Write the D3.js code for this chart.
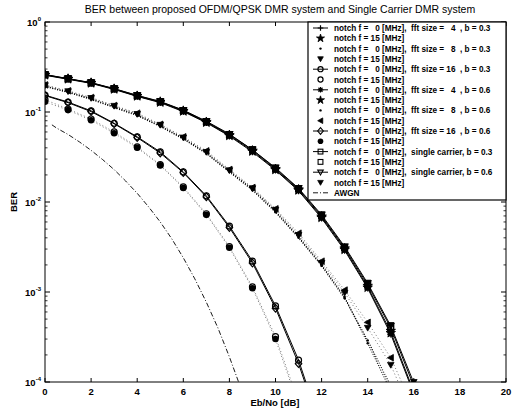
<!DOCTYPE html>
<html><head><meta charset="utf-8">
<script src="https://cdn.jsdelivr.net/npm/d3@7"></script>
<style>body{margin:0;background:#fff}text{font-family:"Liberation Sans",Arial,sans-serif;white-space:pre}</style>
</head><body><svg id="c" width="512" height="409"></svg>
<script>
const ebno = [0,1,2,3,4,5,6,7,8,9,10,11,12,13,14,15,16];
// top group: fft size 4 and single carrier
const f0_fft4_b03 = [0.258,0.233,0.21,0.18,0.15,0.129,0.1026,0.077,0.055,0.037,0.023,0.0136,0.0068,0.003,0.00114,0.00036,0.000078];
const f15_fft4_b03 = [0.259,0.234,0.211,0.181,0.151,0.13,0.103,0.0775,0.0555,0.0373,0.0232,0.0138,0.0069,0.00305,0.00117,0.00037,0.00008];
const f0_fft4_b06 = [0.256,0.231,0.208,0.178,0.149,0.127,0.101,0.076,0.054,0.036,0.0226,0.0133,0.0066,0.0029,0.0011,0.00034,0.000074];
const f15_fft4_b06 = [0.257,0.232,0.209,0.179,0.15,0.128,0.102,0.0765,0.0545,0.0365,0.0228,0.0135,0.0067,0.00295,0.00112,0.00035,0.000076];
const f0_sc_b03 = [0.26,0.234,0.211,0.181,0.152,0.13,0.104,0.078,0.056,0.038,0.0235,0.014,0.007,0.0031,0.0012,0.0004,0.00009];
const f15_sc_b03 = [0.261,0.235,0.212,0.182,0.152,0.131,0.104,0.078,0.056,0.038,0.0237,0.0141,0.0071,0.0031,0.00122,0.00041,0.000092];
const f0_sc_b06 = [0.261,0.235,0.212,0.182,0.153,0.131,0.105,0.079,0.057,0.038,0.024,0.0142,0.0072,0.0032,0.00125,0.00042,0.000098];
const f15_sc_b06 = [0.262,0.236,0.213,0.183,0.153,0.132,0.105,0.079,0.057,0.0385,0.0242,0.0143,0.0073,0.0032,0.00127,0.00043,0.0001];
// middle group: fft size 8
const f0_fft8_b03 = [0.194,0.167,0.14,0.114,0.093,0.07,0.051,0.035,0.022,0.0139,0.0079,0.0041,0.002,0.00088,0.00027,0.00008];
const f15_fft8_b03 = [0.198,0.17,0.143,0.117,0.095,0.072,0.052,0.036,0.0225,0.0142,0.0082,0.0043,0.0021,0.00098,0.0004,0.000155,0.00004];
const f0_fft8_b06 = [0.192,0.165,0.138,0.112,0.091,0.069,0.05,0.0345,0.0215,0.0135,0.0077,0.004,0.00195,0.00085,0.00029,0.00009];
const f15_fft8_b06 = [0.2,0.172,0.145,0.118,0.097,0.073,0.053,0.037,0.023,0.0145,0.0084,0.0045,0.0022,0.00105,0.00046,0.000186,0.00005];
// bottom group: fft size 16
const f0_fft16_b03 = [0.154,0.129,0.103,0.075,0.053,0.036,0.0216,0.0117,0.0054,0.0022,0.0007,0.000175,0.00003];
const f15_fft16_b03 = [0.137,0.108,0.0836,0.06,0.041,0.026,0.0147,0.0074,0.0032,0.00114,0.00032,0.00006];
const f0_fft16_b06 = [0.152,0.127,0.101,0.074,0.052,0.035,0.0212,0.0114,0.0052,0.0021,0.00066,0.00016,0.000028];
const f15_fft16_b06 = [0.13,0.105,0.081,0.058,0.04,0.0255,0.0143,0.0072,0.0031,0.0011,0.0003,0.000055];
// AWGN reference
const awgnX = [0.3,0.5,1,1.5,2,2.5,3,3.5,4,4.5,5,5.5,6,6.5,7,7.5,8,8.5];
const awgnY = [0.072,0.0664,0.0563,0.0464,0.0375,0.0296,0.0229,0.0171,0.0125,0.0088,0.006,0.0039,0.0024,0.0014,0.00077,0.0004,0.00019,0.000085];
const xTicks = [0,2,4,6,8,10,12,14,16,18,20];
const yTicks = [1e-4,1e-3,1e-2,1e-1,1];
const yExps = ["-4","-3","-2","-1","0"];
const title = "BER between proposed OFDM/QPSK DMR system and Single Carrier DMR system";

const series = [
 {label:"notch f =   0 [MHz],  fft size =   4  , b = 0.3", y:f0_fft4_b03, m:"plus", line:"solid"},
 {label:"notch f = 15 [MHz]", y:f15_fft4_b03, m:"fstar", line:"none"},
 {label:"notch f =   0 [MHz],  fft size =   8  , b = 0.3", y:f0_fft8_b03, m:"point", line:"dot"},
 {label:"notch f = 15 [MHz]", y:f15_fft8_b03, m:"ftridown", line:"faint"},
 {label:"notch f =   0 [MHz],  fft size = 16  , b = 0.3", y:f0_fft16_b03, m:"circle", line:"solid"},
 {label:"notch f = 15 [MHz]", y:f15_fft16_b03, m:"circle", line:"faint"},
 {label:"notch f =   0 [MHz],  fft size =   4  , b = 0.6", y:f0_fft4_b06, m:"star", line:"solid"},
 {label:"notch f = 15 [MHz]", y:f15_fft4_b06, m:"fstar", line:"none"},
 {label:"notch f =   0 [MHz],  fft size =   8  , b = 0.6", y:f0_fft8_b06, m:"point", line:"dot"},
 {label:"notch f = 15 [MHz]", y:f15_fft8_b06, m:"ftrileft", line:"faint"},
 {label:"notch f =   0 [MHz],  fft size = 16  , b = 0.6", y:f0_fft16_b06, m:"diamond", line:"solid"},
 {label:"notch f = 15 [MHz]", y:f15_fft16_b06, m:"fcircle", line:"faint"},
 {label:"notch f =   0 [MHz],  single carrier, b = 0.3", y:f0_sc_b03, m:"square", line:"solid"},
 {label:"notch f = 15 [MHz]", y:f15_sc_b03, m:"square", line:"none"},
 {label:"notch f =   0 [MHz],  single carrier, b = 0.6", y:f0_sc_b06, m:"tridown", line:"solid"},
 {label:"notch f = 15 [MHz]", y:f15_sc_b06, m:"ftridown", line:"none"}
];

const svg = d3.select("#c");
const L=45,R=506,T=22,B=382;
const x = d3.scaleLinear().domain([0,20]).range([L,R]);
const y = d3.scaleLog().domain([1e-4,1]).range([B,T]);

svg.append("defs").append("clipPath").attr("id","clip").append("rect")
  .attr("x",L).attr("y",T).attr("width",R-L).attr("height",B-T);

function marker(g, type, cx, cy, s){
  s = s||1;
  const k="#000";
  const a=3.3*s;
  if(type==="plus"){g.append("path").attr("d",`M${cx-a},${cy}H${cx+a}M${cx},${cy-a}V${cy+a}`).attr("stroke",k).attr("stroke-width",1.2);}
  else if(type==="star"){const b=a*0.72;g.append("path").attr("d",`M${cx-a},${cy}H${cx+a}M${cx},${cy-a}V${cy+a}M${cx-b},${cy-b}L${cx+b},${cy+b}M${cx-b},${cy+b}L${cx+b},${cy-b}`).attr("stroke",k).attr("stroke-width",1.2);}
  else if(type==="fstar"){g.append("path").attr("d",d3.symbol(d3.symbolStar,28*s*s)()).attr("transform",`translate(${cx},${cy})`).attr("fill",k).attr("stroke",k).attr("stroke-width",0.8);}
  else if(type==="point"){g.append("circle").attr("cx",cx).attr("cy",cy).attr("r",1.2).attr("fill",k);}
  else if(type==="circle"){g.append("circle").attr("cx",cx).attr("cy",cy).attr("r",3*s).attr("fill","none").attr("stroke",k).attr("stroke-width",1.2);}
  else if(type==="fcircle"){g.append("circle").attr("cx",cx).attr("cy",cy).attr("r",3.3*s).attr("fill",k);}
  else if(type==="diamond"){g.append("path").attr("d",`M${cx},${cy-a-0.5}L${cx+a},${cy}L${cx},${cy+a+0.5}L${cx-a},${cy}Z`).attr("fill","none").attr("stroke",k).attr("stroke-width",1.1);}
  else if(type==="square"){g.append("rect").attr("x",cx-a+0.4).attr("y",cy-a+0.4).attr("width",2*a-0.8).attr("height",2*a-0.8).attr("fill","none").attr("stroke",k).attr("stroke-width",1.1);}
  else if(type==="tridown"){g.append("path").attr("d",`M${cx-a},${cy-a*0.75}L${cx+a},${cy-a*0.75}L${cx},${cy+a}Z`).attr("fill","none").attr("stroke",k).attr("stroke-width",1.1);}
  else if(type==="ftridown"){g.append("path").attr("d",`M${cx-a},${cy-a*0.75}L${cx+a},${cy-a*0.75}L${cx},${cy+a}Z`).attr("fill",k).attr("stroke",k).attr("stroke-width",0.8);}
  else if(type==="ftrileft"){g.append("path").attr("d",`M${cx+a*0.8},${cy-a}L${cx+a*0.8},${cy+a}L${cx-a},${cy}Z`).attr("fill",k).attr("stroke",k).attr("stroke-width",0.8);}
}
function lineStyle(sel, st){
  sel.attr("fill","none").attr("stroke","#000");
  if(st==="solid") sel.attr("stroke-width",1);
  else if(st==="dot") sel.attr("stroke-width",1.1).attr("stroke-dasharray","1,1.5");
  else if(st==="faint") sel.attr("stroke-width",0.8).attr("stroke","#555").attr("stroke-dasharray","1,2.5");
  else if(st==="dashdot") sel.attr("stroke-width",0.9).attr("stroke-dasharray","5,2,1,2");
}

// frame and ticks
const axG = svg.append("g");
axG.append("rect").attr("x",L).attr("y",T).attr("width",R-L).attr("height",B-T).attr("fill","none").attr("stroke","#000").attr("stroke-width",1);
xTicks.forEach(t=>{
  const px=x(t);
  axG.append("line").attr("x1",px).attr("x2",px).attr("y1",B).attr("y2",B-4).attr("stroke","#000");
  axG.append("line").attr("x1",px).attr("x2",px).attr("y1",T).attr("y2",T+4).attr("stroke","#000");
  axG.append("text").attr("x",px).attr("y",B+13).attr("text-anchor","middle").attr("font-size",9.5).attr("font-weight","bold").text(t);
});
for(let e=-4;e<0;e++){
  for(let m=2;m<10;m++){
    const py=y(m*Math.pow(10,e));
    axG.append("line").attr("x1",L).attr("x2",L+2.5).attr("y1",py).attr("y2",py).attr("stroke","#000").attr("stroke-width",0.8);
    axG.append("line").attr("x1",R).attr("x2",R-2.5).attr("y1",py).attr("y2",py).attr("stroke","#000").attr("stroke-width",0.8);
  }
}
yTicks.forEach((t,i)=>{
  const py=y(t);
  axG.append("line").attr("x1",L).attr("x2",L+5).attr("y1",py).attr("y2",py).attr("stroke","#000");
  axG.append("line").attr("x1",R).attr("x2",R-5).attr("y1",py).attr("y2",py).attr("stroke","#000");
  const tx=axG.append("text").attr("x",L-4).attr("y",py+4).attr("text-anchor","end").attr("font-size",9.5).attr("font-weight","bold");
  tx.append("tspan").text("10");
  tx.append("tspan").attr("dy",-5).attr("font-size",6).text(yExps[i]);
});
svg.append("text").attr("x",280).attr("y",13).attr("text-anchor","middle").attr("font-size",10.5).text(title);
svg.append("text").attr("x",275).attr("y",406).attr("text-anchor","middle").attr("font-size",9.5).attr("font-weight","bold").text("Eb/No [dB]");
svg.append("text").attr("transform","translate(17,202) rotate(-90)").attr("text-anchor","middle").attr("font-size",9.5).attr("font-weight","bold").text("BER");

// data
const plot = svg.append("g").attr("clip-path","url(#clip)");
const lineGen = d3.line().x(d=>x(d[0])).y(d=>y(d[1]));
lineStyle(plot.append("path").attr("d",lineGen(awgnX.map((v,i)=>[v,awgnY[i]]))),"dashdot");
series.forEach(s=>{
  const pts = s.y.map((v,i)=>[ebno[i],v]);
  if(s.line!=="none") lineStyle(plot.append("path").attr("d",lineGen(pts)), s.line);
});
series.forEach(s=>{
  const g = plot.append("g");
  s.y.forEach((v,i)=>{ if(v>=1e-4) marker(g, s.m, x(ebno[i]), y(v)); });
});

// legend
const lg = svg.append("g");
const LX=308, LY=22, rowH=10.3;
lg.append("rect").attr("x",LX).attr("y",LY).attr("width",R-LX).attr("height",178).attr("fill","#fff").attr("stroke","#000").attr("stroke-width",1.2);
series.forEach((s,i)=>{
  const cy = LY+6+i*rowH;
  if(s.line==="solid") lineStyle(lg.append("line").attr("x1",313).attr("x2",328).attr("y1",cy).attr("y2",cy),"solid");
  marker(lg, s.m, 320.5, cy, 0.85);
  lg.append("text").attr("xml:space","preserve").attr("x",334).attr("y",cy+3).attr("font-size",8.2).attr("font-weight","bold").text(s.label);
});
{
  const cy = LY+6+16*rowH;
  lineStyle(lg.append("line").attr("x1",313).attr("x2",328).attr("y1",cy).attr("y2",cy),"dashdot");
  lg.append("text").attr("x",334).attr("y",cy+3).attr("font-size",8.2).attr("font-weight","bold").text("AWGN");
}
</script></body></html>
